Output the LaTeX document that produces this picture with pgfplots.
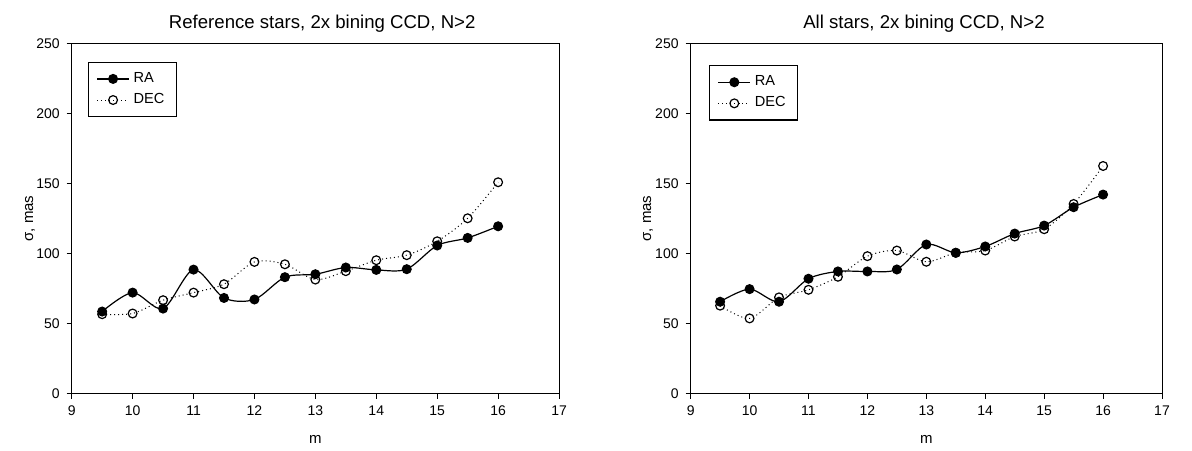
\documentclass[border=0pt]{standalone}
\usepackage{fontspec}
\setmainfont{Liberation Sans}
\usepackage{pgfplots}
\pgfplotsset{compat=1.18}
\usetikzlibrary{calc}

% data read off the reference: m, RA, DEC
\pgfplotstableread{
m    ra     dec
9.5  58.7   56.8
10   72.2   57.3
10.5 60.8   66.8
11   88.6   72.2
11.5 68.4   78.2
12   67.3   94.1
12.5 83.2   92.4
13   85.3   81.5
13.5 90.1   87.5
14   88.4   95.3
14.5 88.9   98.9
15   105.8  108.8
15.5 111.2  125.2
16   119.5  150.9
}\refstars
\pgfplotstableread{
m    ra     dec
9.5  65.7   62.9
10   74.7   53.8
10.5 65.7   68.8
11   82.1   74.2
11.5 87.3   83.5
12   87.3   98.2
12.5 88.7   102.2
13   106.5  94.2
13.5 100.6  100.6
14   105.1  102.2
14.5 114.3  112.2
15   120.0  117.4
15.5 133.1  135.4
16   142.1  162.5
}\allstars

\pgfplotsset{
  sigplot/.style={
    scale only axis,
    height=175.3pt,
    xmin=9, xmax=17, ymin=0, ymax=250,
    xtick={9,...,17}, ytick={0,50,...,250},
    tick align=outside, tick pos=left,
    major tick length=2.5pt,
    axis line style={black, line width=0.5pt},
    every tick/.style={black, line width=0.5pt},
    tick label style={font=\fontsize{7}{8.5}\selectfont},
    /pgf/number format/assume math mode=true,
    label style={font=\fontsize{7.5}{9}\selectfont},
    every axis title shift=0pt,
    title style={font=\fontsize{9.3}{11}\selectfont, anchor=center},
    xlabel={m}, ylabel={σ, mas},
    x label style={at={(axis description cs:0.5,-0.131)}, anchor=center},
    legend cell align=left,
    legend style={draw=black, line width=0.7pt, font=\fontsize{7.3}{9}\selectfont,
      inner xsep=4pt, inner ysep=3pt, row sep=0pt},
    legend image code/.code={
      \draw[mark repeat=2, mark phase=2, #1] plot coordinates {(0pt,0pt) (8pt,0pt) (16pt,0pt)};
    },
  },
  raline/.style={black, line width=0.6pt, smooth, tension=0.5,
    mark=*, mark size=2.2pt, mark options={solid, fill=black}},
  decline/.style={black, line width=0.5pt, dash pattern=on 0.5pt off 1.5pt, smooth, tension=0.5,
    mark=o, mark size=2.2pt, mark options={solid, fill=white, line width=0.6pt}},
}

\begin{document}
\begin{tikzpicture}
\begin{axis}[sigplot, name=L, width=243.7pt,
    title={Reference stars, 2x bining CCD, N>2},
    title style={at={(axis description cs:0.514,1.055)}},
    y label style={at={(axis description cs:-0.0856,0.5)}, anchor=center},
    legend style={at={(rel axis cs:0.033,0.9475)}, anchor=north west}]
\addplot[raline] table[x=m, y=ra] {\refstars};
\addplot[decline] table[x=m, y=dec] {\refstars};
\legend{RA, DEC}
\end{axis}
\begin{axis}[sigplot, name=R, width=235.7pt, at={(309.5pt,0pt)},
    title={All stars, 2x bining CCD, N>2},
    title style={at={(axis description cs:0.495,1.055)}},
    y label style={at={(axis description cs:-0.0906,0.5)}, anchor=center},
    legend style={at={(rel axis cs:0.039,0.938)}, anchor=north west}]
\addplot[raline] table[x=m, y=ra] {\allstars};
\addplot[decline] table[x=m, y=dec] {\allstars};
\legend{RA, DEC}
\end{axis}
\pgfresetboundingbox
\path ($(L.south west)+(-35.85pt,-28.5pt)$) rectangle ($(R.north east)+(15pt,21.65pt)$);
\end{tikzpicture}
\end{document}
